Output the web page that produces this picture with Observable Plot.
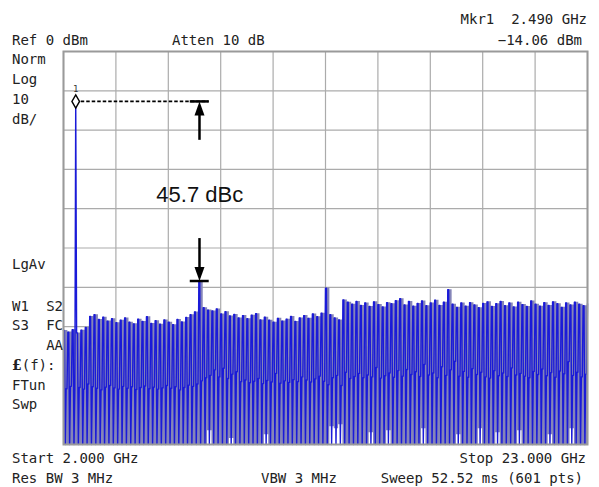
<!DOCTYPE html>
<html><head><meta charset="utf-8">
<script src="https://cdn.jsdelivr.net/npm/d3@7"></script>
<script src="https://cdn.jsdelivr.net/npm/@observablehq/plot@0.6"></script>
<style>body{margin:0;background:#fff} svg{display:block}</style>
</head><body><div id="chart"></div>
<script>
// ---- sweep settings ----
const startGHz = 2.0, stopGHz = 23.0, sweepPoints = 601;
const refLevel = 0, bottomLevel = -100;
const xTicks = [2.0, 4.1, 6.2, 8.3, 10.4, 12.5, 14.6, 16.7, 18.8, 20.9, 23.0];
const yTicks = [0, -10, -20, -30, -40, -50, -60, -70, -80, -90, -100];

// ---- trace values (dBm), one burst every 5 sweep points ----
const peakLevels = [
 -71.0,-71.4,-70.8,-71.6,-70.9,-70.2,-67.4,-67.0,-68.2,-67.6,
 -68.6,-68.0,-69.0,-68.4,-67.8,-68.9,-69.3,-68.1,-68.7,-67.5,
 -69.2,-68.5,-69.4,-68.3,-68.9,-69.5,-68.2,-68.8,-67.7,-67.0,
 -66.3,-58.4,-65.2,-65.8,-66.0,-65.5,-66.8,-66.2,-67.3,-66.9,
 -67.8,-67.2,-68.0,-67.1,-66.7,-68.3,-67.6,-68.4,-68.9,-67.9,
 -68.6,-68.1,-67.4,-68.7,-67.8,-67.2,-67.9,-66.8,-67.5,-66.6,
 -60.2,-67.0,-67.8,-68.3,-63.2,-63.8,-64.3,-63.6,-64.6,-64.0,
 -64.9,-63.7,-64.4,-65.0,-63.9,-64.2,-63.4,-62.9,-64.5,-63.6,
 -64.8,-64.1,-63.5,-64.7,-64.0,-63.3,-64.6,-63.8,-60.6,-64.3,
 -65.1,-64.0,-64.8,-63.9,-64.5,-65.2,-64.1,-63.7,-64.9,-64.2,
 -63.6,-64.7,-64.0,-65.0,-63.8,-64.4,-64.9,-63.5,-64.3,-64.8,
 -63.9,-64.6,-63.7,-64.2,-65.1,-64.0,-64.5,-63.8,-64.3,-64.7
];
const midLevels = [
 -85.8,-85.2,-86.0,-85.5,-85.9,-84.6,-85.3,-85.7,-86.1,-85.4,
 -85.0,-85.6,-85.9,-85.2,-85.7,-85.3,-86.0,-85.5,-85.1,-85.8,
 -85.4,-85.9,-85.6,-85.0,-85.7,-85.3,-86.1,-85.5,-84.9,-85.2,
 -84.6,-83.8,-83.0,-82.4,-81.0,-82.8,-80.6,-83.2,-82.1,-81.5,
 -84.0,-83.6,-84.3,-83.9,-83.2,-84.5,-83.7,-84.1,-81.9,-84.4,
 -83.8,-84.2,-83.5,-84.0,-82.8,-83.6,-84.1,-83.3,-82.6,-83.9,
 -84.8,-83.0,-82.4,-85.0,-81.6,-83.2,-82.7,-81.9,-83.0,-82.3,
 -82.8,-80.4,-83.1,-82.5,-81.8,-82.9,-81.2,-82.6,-80.9,-82.2,
 -81.5,-82.7,-79.6,-82.3,-81.8,-83.0,-80.2,-82.4,-81.0,-78.8,
 -82.6,-81.4,-82.9,-80.7,-82.2,-81.6,-82.8,-83.1,-81.2,-82.5,
 -81.8,-82.7,-80.5,-82.3,-81.9,-82.6,-83.0,-81.4,-82.2,-80.8,
 -82.5,-81.7,-82.9,-81.3,-82.0,-78.9,-82.4,-81.6,-82.8,-82.1
];
const endLevel = -64.2;
// bursts whose shaded gap stops above the floor: [burst index, level]
const gapFloors = [[33,-96.5],[38,-98.5],[46,-97.5],[61,-95.5],[62,-96.0],[63,-95.0],
  [70,-97.0],[74,-96.5],[82,-96.0],[90,-97.5],[95,-96.0],[99,-97.0],[104,-96.5],[111,-97.5],[116,-96.0]];

// ---- marker / annotation ----
const marker = {freq: 2.490, level: -12.7, label: "1"};
const spur = {freq: 7.45, level: -58.4};
const barSpan = [7.08, 7.84];
const arrowTails = [-22.6, -47.6];
const dbcLabel = {freq: 5.72, level: -38.4, text: "45.7 dBc"};

// ---- build tables ----
const step = (stopGHz - startGHz) / (sweepPoints - 1);
const trace = [];
peakLevels.forEach((pk, p) => {
  [pk, pk, bottomLevel, midLevels[p], midLevels[p]].forEach((v, k) =>
    trace.push({f: startGHz + (5 * p + k) * step, v}));
});
trace.push({f: stopGHz, v: endLevel});
const mIdx = Math.round((marker.freq - startGHz) / step);
trace[mIdx] = {f: trace[mIdx].f, v: marker.level};

const gapMap = new Map(gapFloors);
const shade = peakLevels.map((pk, p) => ({f: startGHz + 5 * p * step, top: pk, bot: gapMap.get(p) ?? bottomLevel}));
shade.push({f: stopGHz, top: endLevel, bot: bottomLevel});

const upHead = {draw(c) { c.moveTo(0, 0); c.lineTo(-5, 14); c.lineTo(5, 14); c.closePath(); }};
const downHead = {draw(c) { c.moveTo(0, 0); c.lineTo(-5, -14); c.lineTo(5, -14); c.closePath(); }};

const plot = Plot.plot({
  width: 599, height: 487,
  marginLeft: 63, marginRight: 12, marginTop: 51, marginBottom: 43,
  x: {domain: [startGHz, stopGHz], axis: null},
  y: {domain: [bottomLevel, refLevel], axis: null},
  style: {background: "#fff"},
  marks: [
    Plot.ruleX(xTicks, {stroke: "#ababab", strokeWidth: 1.2}),
    Plot.ruleY(yTicks, {stroke: "#ababab", strokeWidth: 1.2}),
    Plot.areaY(shade, {x: "f", y1: "bot", y2: "top", curve: "step-after", fill: "#8585b8"}),
    Plot.line(trace, {x: "f", y: "v", stroke: "#1a1ad8", strokeWidth: 1.4}),
    Plot.frame({stroke: "#9a9a9a", strokeWidth: 2}),
    // marker
    Plot.ruleY([marker.level], {x1: marker.freq, x2: barSpan[1], stroke: "#000", strokeWidth: 1.8, strokeDasharray: "3.5,2"}),
    Plot.dot([marker], {x: "freq", y: "level", symbol: "diamond", r: 4, fill: "#fff", stroke: "#000", strokeWidth: 1.4}),
    Plot.text([marker], {x: "freq", y: "level", text: "label", dy: -12, fontSize: 9, fill: "#333", fontFamily: "DejaVu Sans Mono"}),
    // delta annotation
    Plot.ruleY([marker.level, spur.level], {x1: barSpan[0], x2: barSpan[1], stroke: "#000", strokeWidth: 2.5}),
    Plot.ruleX([spur.freq], {y1: arrowTails[0], y2: marker.level - 3, stroke: "#000", strokeWidth: 2.5}),
    Plot.ruleX([spur.freq], {y1: arrowTails[1], y2: spur.level + 3, stroke: "#000", strokeWidth: 2.5}),
    Plot.dot([{f: spur.freq, v: marker.level}], {x: "f", y: "v", symbol: upHead, fill: "#000", stroke: "none"}),
    Plot.dot([{f: spur.freq, v: spur.level}], {x: "f", y: "v", symbol: downHead, fill: "#000", stroke: "none"}),
    Plot.text([dbcLabel], {x: "freq", y: "level", text: "text", textAnchor: "start", lineAnchor: "bottom",
      fontSize: 22, fill: "#111", fontFamily: "Liberation Sans, Arial, sans-serif"})
  ]
});
document.getElementById("chart").append(plot);

// ---- instrument annotation texts ----
const svg = d3.select(plot);
const labels = [
  {t: "Mkr1  2.490 GHz", x: 587, y: 24, a: "end"},
  {t: "\u221214.06 dBm", x: 582, y: 45, a: "end"},
  {t: "Ref 0 dBm", x: 12, y: 45, a: "start"},
  {t: "Atten 10 dB", x: 172, y: 45, a: "start"},
  {t: "Norm", x: 12, y: 64, a: "start"},
  {t: "Log", x: 12, y: 84, a: "start"},
  {t: "10", x: 12, y: 104, a: "start"},
  {t: "dB/", x: 12, y: 124, a: "start"},
  {t: "LgAv", x: 12, y: 269, a: "start"},
  {t: "W1", x: 12, y: 311, a: "start"},
  {t: "S2", x: 63, y: 311, a: "end"},
  {t: "S3", x: 12, y: 330, a: "start"},
  {t: "FC", x: 63, y: 330, a: "end"},
  {t: "AA", x: 63, y: 350, a: "end"},
  {t: "FTun", x: 12, y: 390, a: "start"},
  {t: "Swp", x: 12, y: 409, a: "start"},
  {t: "Start 2.000 GHz", x: 12, y: 463, a: "start"},
  {t: "Stop 23.000 GHz", x: 586, y: 463, a: "end"},
  {t: "Res BW 3 MHz", x: 12, y: 483, a: "start"},
  {t: "VBW 3 MHz", x: 261, y: 483, a: "start"},
  {t: "Sweep 52.52 ms (601 pts)", x: 583, y: 483, a: "end"}
];
const g = svg.append("g").attr("font-family", "DejaVu Sans Mono, monospace").attr("font-size", 14).attr("fill", "#222");
labels.forEach(d => g.append("text").attr("x", d.x).attr("y", d.y).attr("text-anchor", d.a).text(d.t));
const lf = g.append("text").attr("x", 12).attr("y", 370).attr("text-anchor", "start");
lf.append("tspan").attr("font-weight", "bold").attr("font-family", "DejaVu Serif, serif").text("\u00a3");
lf.append("tspan").text("(f):");
</script></body></html>
